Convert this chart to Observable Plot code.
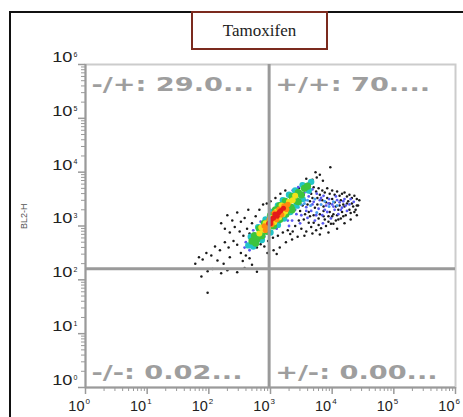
<!DOCTYPE html>
<html><head><meta charset="utf-8">
<script src="https://cdn.jsdelivr.net/npm/d3@7"></script>
<script src="https://cdn.jsdelivr.net/npm/@observablehq/plot@0.6"></script>
<style>
body{margin:0;background:#fff;}
#wrap{position:relative;width:463px;height:417px;overflow:hidden;background:#fff;}
#frame{position:absolute;left:9px;top:11px;width:470px;height:430px;border:2px solid #111;box-sizing:border-box;}
#chart{position:absolute;left:0;top:0;}
#title{position:absolute;left:191px;top:11px;width:137px;height:39px;border:2px solid #7b2a1e;box-sizing:border-box;background:#fff;font-family:"Liberation Serif",serif;font-size:17px;text-align:center;line-height:35px;color:#222;}
</style></head>
<body>
<div id="wrap"><div id="frame"></div><div id="chart"></div><div id="title">Tamoxifen</div></div>
<script>
// ---- data (log10 of fluorescence, x = channel on x axis, y = BL2-H) ----
const titleText = "Tamoxifen";
const yLabel = "BL2-H";
const tickExponents = [0, 1, 2, 3, 4, 5, 6];
const minorMultipliers = [2, 3, 4, 5, 6, 7, 8, 9];
const gateX = 950;
const gateY = 160;
const quadNames = ["-/+", "+/+", "-/-", "+/-"];
const quadValues = ["29.0...", "70....", "0.02...", "0.00..."];

const blackPts = [[3.42,3.62],[3.46,3.70],[3.50,3.78],[3.54,3.58],[3.58,3.74],[3.60,3.66],[3.64,3.80],[3.66,3.60],[3.70,3.72],[3.74,3.64],[3.78,3.70],[3.80,3.58],[3.84,3.66],[3.88,3.62],[3.92,3.70],[3.96,3.60],[4.00,3.66],[4.04,3.58],[4.08,3.64],[4.12,3.56],[4.16,3.60],[4.20,3.62],[4.24,3.55],[4.28,3.58],[4.32,3.52],[4.36,3.56],[4.40,3.50],[4.44,3.48],[4.42,3.38],[4.38,3.30],[4.34,3.36],[4.30,3.24],[4.26,3.46],[4.22,3.20],[4.18,3.40],[4.14,3.14],[4.10,3.30],[4.06,3.10],[4.02,3.22],[3.98,3.04],[3.94,3.18],[3.90,3.00],[3.86,3.28],[3.82,2.96],[3.78,3.14],[3.74,2.92],[3.70,3.20],[3.66,2.98],[3.62,3.06],[3.58,2.90],[3.54,3.12],[3.50,2.95],[3.46,3.10],[3.40,3.00],[3.36,2.90],[3.32,2.85],[3.28,2.92],[3.44,2.80],[3.55,2.82],[3.68,2.86],[3.80,2.84],[3.94,2.88],[4.08,2.95],[4.20,3.05],[4.30,3.12],[4.40,3.20],[3.90,3.44],[4.00,3.50],[4.14,3.48],[3.76,3.40],[3.64,3.46],[3.86,3.36],[3.96,3.26],[4.06,3.36],
[3.44,3.50],[3.48,3.28],[3.52,3.38],[3.56,3.22],[3.60,3.40],[3.64,3.18],[3.68,3.52],[3.72,3.34],[3.76,3.52],[3.80,3.22],[3.84,3.48],[3.88,3.12],[3.92,3.52],[3.96,3.42],[4.00,3.18],[4.04,3.44],[4.08,3.20],[4.12,3.38],[4.16,3.26],[4.20,3.36],[4.24,3.42],[4.28,3.30],[4.32,3.42],[4.36,3.26],[4.40,3.38],[3.62,3.26],[3.70,3.06],[3.78,3.02],[3.86,3.18],[3.94,3.08],[4.02,3.04],[4.10,3.12],[4.18,3.18],
[3.97,4.09],[3.73,4.00],[3.75,3.90],[3.68,3.86],[3.80,3.95],[3.58,3.88],[3.85,3.84],
[2.20,3.05],[2.26,2.95],[2.30,3.20],[2.34,2.88],[2.38,3.10],[2.42,2.98],[2.46,3.25],[2.50,2.90],[2.52,3.08],[2.56,2.82],[2.58,3.15],[2.62,2.95],[2.64,3.30],[2.66,2.86],[2.70,3.05],[2.72,2.70],[2.76,3.18],[2.78,2.60],[2.82,3.30],[2.84,2.66],[2.88,3.40],[2.90,2.62],[2.94,3.42],[2.96,2.72],[3.00,3.46],[3.04,2.78],[3.08,3.52],[3.12,2.82],[3.16,3.60],[3.20,2.88],[3.24,3.66],[2.46,2.65],[2.40,2.72],[2.32,2.60],[2.26,2.70],[2.18,2.55],[2.10,2.62],[2.04,2.45],[1.96,2.50],[1.90,2.38],[1.84,2.42],[1.78,2.30],[2.14,2.36],[2.24,2.30],[2.34,2.42],[2.52,2.50],[2.60,2.45],[2.66,2.40],[2.06,2.20],[1.98,2.16],[2.20,2.12],[2.30,2.18],[2.46,2.14],[2.58,2.22],[2.78,2.15],[1.88,2.06],[1.98,1.76],[2.55,2.35],[2.70,2.28],[3.05,2.55],[3.15,2.60],[3.25,2.70],[3.35,2.75],[3.10,2.48],[2.95,2.50]];

const bluePts = [[3.40,3.30],[3.45,3.42],[3.50,3.20],[3.52,3.50],[3.58,3.35],[3.60,3.15],[3.62,3.55],[3.66,3.28],[3.70,3.45],[3.72,3.10],[3.75,3.60],[3.78,3.32],[3.80,3.48],[3.84,3.20],[3.86,3.56],[3.90,3.38],[3.92,3.26],[3.95,3.50],[3.98,3.14],[4.00,3.40],[4.04,3.30],[4.06,3.55],[4.10,3.22],[4.12,3.44],[4.16,3.34],[4.20,3.50],[4.24,3.28],[4.28,3.40],[3.35,3.10],[3.48,3.05],[3.55,3.62],[3.68,3.68],[2.60,2.70],[2.66,2.55],[2.72,2.92],[2.84,3.08],[2.90,2.80],[2.98,3.32],[3.10,2.95],[3.18,3.50],[3.28,3.10],[3.36,3.66],[3.45,3.72],[3.30,3.00],[3.85,3.05],[4.35,3.45],[3.62,3.80],[2.58,2.60],
[3.42,3.22],[3.56,3.48],[3.64,3.62],[3.68,3.40],[3.74,3.20],[3.82,3.52],[3.88,3.30],[3.94,3.42],[4.02,3.36],[4.08,3.48],[4.14,3.30],[4.18,3.46],[4.22,3.38],[4.30,3.50],[3.58,3.28],[3.46,3.58]];
const lightBluePts = [[3.55,3.42],[3.65,3.38],[3.72,3.50],[3.82,3.40],[3.88,3.46],[3.95,3.36],[4.02,3.45],[3.60,3.48],[3.75,3.25],[3.50,3.40],[4.08,3.38],[3.45,3.35]];
const cyanPts = [[2.64,2.64],[2.68,2.80],[2.72,2.62],[2.80,2.98],[2.86,2.74],[2.92,3.12],[3.00,2.88],[3.02,3.26],[3.12,3.02],[3.12,3.38],[3.22,3.14],[3.20,3.48],[3.32,3.26],[3.30,3.58],[3.42,3.38],[3.40,3.66],[3.52,3.50],[3.52,3.76],[3.62,3.66],[3.66,3.82]];
const greenPts = [[2.70,2.72],[2.74,2.82],[2.78,2.76],[2.82,2.95],[2.86,2.82],[2.90,3.05],[2.95,2.90],[3.00,3.20],[3.05,3.00],[3.08,3.30],[3.15,3.12],[3.15,3.38],[3.25,3.22],[3.24,3.46],[3.33,3.35],[3.35,3.55],[3.42,3.47],[3.45,3.62],[3.50,3.58],[3.55,3.70],[3.60,3.74],[2.76,2.68],[3.35,3.30],[3.45,3.45]];
const yellowPts = [[2.82,2.86],[2.88,2.93],[2.92,3.05],[2.96,2.96],[3.00,3.15],[3.06,3.07],[3.10,3.27],[3.14,3.16],[3.18,3.38],[3.24,3.27],[3.30,3.45],[3.36,3.48],[3.40,3.56],[2.85,2.97],[3.20,3.22]];
const orangePts = [[2.90,3.00],[2.94,2.98],[2.98,3.12],[3.02,3.03],[3.06,3.24],[3.10,3.12],[3.14,3.31],[3.18,3.21],[3.22,3.37],[3.26,3.31],[3.28,3.40],[2.92,2.92]];
const redPts = [[2.97,3.05],[3.01,3.10],[3.05,3.15],[3.09,3.20],[3.13,3.24],[3.17,3.29],[3.21,3.33],[3.03,3.14],[3.11,3.18],[3.15,3.27],[3.07,3.22],[3.00,3.04]];

// ---- derived ----
const decades = tickExponents.map(e => 10 ** e);
const minorTicks = tickExponents.slice(0, -1).flatMap(e => minorMultipliers.map(m => m * 10 ** e));
const quads = quadNames.map((n, i) => ({label: n + ": " + quadValues[i], x: i % 2 === 0 ? 1 : gateX, y: i < 2 ? 1e6 : 1}));
const dotLayer = (pts, fill, r) => Plot.dot(pts, {x: d => 10 ** d[0], y: d => 10 ** d[1], r, fill, stroke: null});

const chart = Plot.plot({
  width: 463, height: 417,
  marginLeft: 85, marginRight: 8, marginTop: 64, marginBottom: 30,
  x: {type: "log", domain: [1, 1e6]},
  y: {type: "log", domain: [1, 1e6]},
  style: {background: "transparent", fontFamily: "'Liberation Sans', Arial, sans-serif"},
  marks: [
    Plot.frame({stroke: "#cccccc", strokeWidth: 2}),
    dotLayer(blackPts, "#1a1a1a", 1.25),
    dotLayer(bluePts, "#5a5af0", 1.4),
    dotLayer(lightBluePts, "#4aa0f0", 1.5),
    dotLayer(cyanPts, "#22c4c8", 3.2),
    dotLayer(greenPts, "#3cc43c", 3.6),
    dotLayer(yellowPts, "#f2e21a", 3.0),
    dotLayer(orangePts, "#ff8a10", 2.8),
    dotLayer(redPts, "#e41a1a", 2.5),
    Plot.ruleX([gateX], {stroke: "#9a9a9a", strokeWidth: 3}),
    Plot.ruleY([gateY], {stroke: "#9a9a9a", strokeWidth: 3}),
    Plot.ruleX([1], {stroke: "#9a9a9a", strokeWidth: 2}),
    Plot.ruleY([1], {stroke: "#9a9a9a", strokeWidth: 2}),
    Plot.axisX(minorTicks, {tickSize: 4, tickFormat: () => "", stroke: "#9a9a9a", label: null}),
    Plot.axisY(minorTicks, {tickSize: 4, tickFormat: () => "", stroke: "#9a9a9a", label: null}),
    Plot.axisX(decades, {tickSize: 7, tickFormat: () => "", stroke: "#9a9a9a", strokeWidth: 1.5, label: null}),
    Plot.axisY(decades, {tickSize: 7, tickFormat: () => "", stroke: "#9a9a9a", strokeWidth: 1.5, label: null}),
    Plot.text(decades, {x: d => d, frameAnchor: "bottom", text: () => "10", textAnchor: "end", dx: -1, dy: 23, fontSize: 14.5, fill: "#222"}),
    Plot.text(tickExponents, {x: d => 10 ** d, frameAnchor: "bottom", text: d => String(d), textAnchor: "start", dx: 0, dy: 16, fontSize: 8, fill: "#222"}),
    Plot.text(decades, {y: d => d, frameAnchor: "left", text: () => "10", textAnchor: "end", dx: -13, dy: -7, fontSize: 14, fill: "#222"}),
    Plot.text(tickExponents, {y: d => 10 ** d, frameAnchor: "left", text: d => String(d), textAnchor: "start", dx: -12, dy: -10, fontSize: 7, fill: "#222"}),
    Plot.text([yLabel], {frameAnchor: "left", dx: -61, dy: 3, rotate: -90, fontSize: 9, fill: "#555"}),
    Plot.text(quads.slice(0, 2), {x: "x", y: "y", text: "label", textAnchor: "start", lineAnchor: "top", dx: 6, dy: 12, fontSize: 20, fontWeight: "bold", fontFamily: "DejaVu Sans", fill: "#9e9e9e"}),
    Plot.text(quads.slice(2), {x: "x", y: "y", text: "label", textAnchor: "start", lineAnchor: "bottom", dx: 6, dy: -9, fontSize: 20, fontWeight: "bold", fontFamily: "DejaVu Sans", fill: "#9e9e9e"})
  ]
});
document.getElementById("chart").appendChild(chart);
document.getElementById("title").textContent = titleText;
// the source figure is horizontally stretched: widen the quadrant labels and y tick labels accordingly
const stretch = (sel, k) => sel.each(function() { const w = this.getComputedTextLength(); this.setAttribute("textLength", w * k); this.setAttribute("lengthAdjust", "spacingAndGlyphs"); });
const quadLabels = quads.map(q => q.label);
stretch(d3.select(chart).selectAll("text").filter(function() { return quadLabels.includes(this.textContent); }), 1.36);
stretch(d3.select(chart).selectAll("text").filter(function() {
  const g = this.closest("g");
  return this.textContent === "10" && g && g.getAttribute("font-size") === "14";
}), 1.3);
</script>
</body></html>
